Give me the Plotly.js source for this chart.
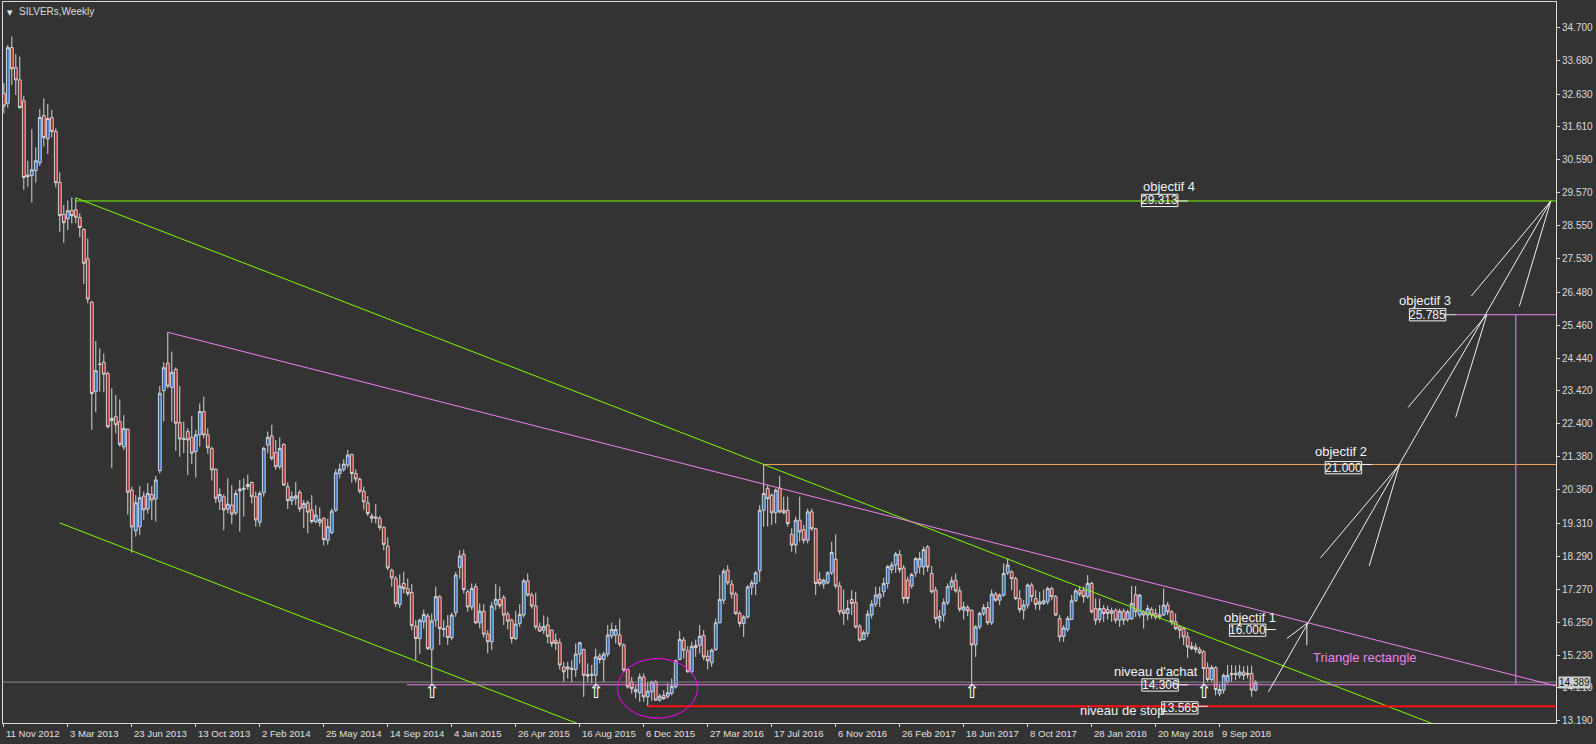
<!DOCTYPE html>
<html><head><meta charset="utf-8">
<script src="https://cdn.plot.ly/plotly-3.0.1.min.js"></script>
<style>html,body{margin:0;padding:0;background:#333333;}#chart{width:1596px;height:744px;}</style>
</head><body><div id="chart"></div>
<script>
// Weekly SILVER candles, one per week starting 11 Nov 2012
const openPrice = [32.65,32.34,34.07,33.45,33.07,32.42,30.12,30.1,30.26,30.5,31.96,31.24,31.9,31.47,29.89,28.9,28.76,29.02,29.04,28.8,
28.43,27.52,26.17,23.4,24.24,24.31,23.96,22.5,22.62,22.47,21.69,22.23,20.35,19.08,19.21,20.16,19.76,20.21,20.07,20.95,
23.43,24.28,23.53,24.09,22.44,21.95,22.16,21.98,21.54,22.06,22.78,22.06,21.64,20.99,20.0,20.14,19.76,19.88,19.64,20.32,
20.37,20.45,20.58,20.14,19.35,20.26,21.74,22.02,21.51,21.07,21.76,20.45,20.02,20.09,20.27,19.8,19.95,19.73,19.37,19.34,
19.47,18.79,19.03,19.72,20.86,20.99,21.12,21.45,20.86,20.68,20.31,19.95,19.54,19.47,19.47,19.19,18.61,17.86,17.6,16.8,
17.45,17.29,17.17,16.12,15.74,16.26,16.44,15.4,16.31,17.04,16.05,16.12,15.77,16.54,17.95,18.35,17.19,16.72,17.35,16.23,
16.59,15.88,15.64,16.8,16.95,17.01,16.5,16.31,15.74,16.21,16.47,17.53,17.09,16.75,16.1,16.0,16.16,16.0,15.69,15.61,
14.86,14.8,14.82,14.78,15.26,15.4,14.62,14.6,14.6,15.2,15.09,15.26,15.82,15.85,15.85,15.54,14.78,14.4,14.16,14.06,
14.55,13.93,14.09,14.4,13.83,13.98,13.95,14.04,14.24,15.09,15.69,15.36,14.71,15.53,15.53,15.84,15.19,14.99,15.4,16.23,
16.93,17.86,17.43,17.12,16.52,16.21,16.41,17.34,17.45,17.84,19.72,20.4,20.19,19.64,20.4,19.72,19.72,18.97,18.64,19.41,
19.12,18.79,19.67,19.15,17.57,17.43,17.47,17.78,18.2,17.37,16.62,16.52,16.95,16.86,16.12,15.71,15.9,16.47,16.81,17.0,
17.19,17.45,17.88,18.02,18.35,17.93,17.55,17.37,17.78,17.96,17.96,18.58,17.76,17.24,16.31,16.47,16.85,17.35,17.55,17.22,
16.62,16.7,16.62,15.54,16.1,16.52,16.7,16.23,17.12,16.93,17.09,17.78,17.81,17.6,16.98,16.62,16.78,17.4,16.98,16.8,
16.83,16.88,17.29,17.04,16.36,15.81,16.02,16.33,16.91,17.24,17.24,17.04,17.45,16.67,16.33,16.67,16.64,16.52,16.62,16.31,
16.59,16.33,16.36,17.1,16.47,16.57,16.47,16.64,16.52,16.47,16.47,16.78,16.57,16.26,16.1,16.05,15.79,15.5,15.48,15.4,
15.33,14.84,14.47,14.84,14.03,14.14,14.4,14.62,14.66,14.6,14.7,14.62,14.66,14.14];
const highPrice = [32.97,34.15,34.41,33.87,33.79,32.57,30.56,31.54,30.98,32.17,32.5,32.32,32.14,31.57,30.2,29.19,29.33,29.42,29.41,28.93,
28.47,28.15,26.22,24.97,24.74,24.58,24.02,23.5,23.3,23.16,22.67,22.26,20.45,20.19,20.47,20.3,20.56,20.47,20.79,23.57,
24.31,25.24,24.64,24.15,23.58,22.47,22.26,22.65,22.21,23.04,23.24,22.26,21.69,21.02,20.4,20.22,20.71,20.5,20.35,20.66,
20.71,20.83,20.61,20.3,20.32,21.69,22.16,22.37,21.9,21.98,21.8,20.58,20.3,20.6,20.35,20.04,20.02,20.19,19.88,19.81,
19.5,19.46,19.77,20.99,21.17,21.3,21.59,21.48,20.99,20.74,20.45,20.16,19.62,19.91,19.55,19.21,18.88,17.91,17.68,17.73,
17.81,17.6,17.43,16.31,16.36,16.64,16.52,16.52,17.35,17.09,16.31,16.47,16.54,17.81,18.48,18.5,17.26,17.45,17.45,16.83,
16.81,16.0,16.88,17.43,17.35,17.09,16.57,16.36,16.6,16.8,17.6,17.76,17.17,17.16,16.23,16.46,16.41,16.02,15.9,15.74,
15.02,15.02,15.07,15.59,15.64,15.43,14.97,14.92,15.43,15.28,15.33,16.16,16.23,16.16,16.36,15.59,14.81,14.55,14.29,14.66,
14.66,14.4,14.43,14.45,14.03,14.14,14.35,14.5,15.09,15.98,15.79,15.5,15.64,15.71,16.16,16.0,15.38,15.43,16.36,17.71,
17.91,18.02,17.55,17.19,16.6,16.47,17.4,17.55,17.84,19.88,21.14,20.5,20.24,20.4,20.78,20.14,20.14,19.16,19.52,20.14,
19.26,19.77,19.77,19.18,17.81,17.6,17.83,18.74,18.97,17.5,17.26,16.93,17.24,17.19,16.19,16.0,16.62,16.93,17.35,17.35,
17.63,18.02,18.12,18.43,18.48,18.02,17.66,17.78,18.27,18.43,18.6,18.64,17.99,17.35,16.62,16.98,17.45,17.66,17.76,17.35,
16.88,16.78,16.64,16.16,16.57,16.81,16.88,17.26,17.19,17.14,18.07,18.22,17.86,17.66,17.24,16.93,17.45,17.47,17.24,17.19,
17.26,17.35,17.35,17.09,16.47,16.16,16.44,17.09,17.29,17.37,17.35,17.71,17.5,16.98,16.98,16.78,16.75,16.7,16.67,16.67,
16.67,16.64,17.37,17.37,17.12,16.62,16.78,16.72,16.67,16.78,17.29,16.88,16.62,16.52,16.16,16.1,15.95,15.64,15.59,15.48,
15.38,15.0,14.92,14.88,14.3,14.66,14.92,14.92,14.9,14.92,14.88,14.9,14.9,14.45];
const lowPrice = [32.03,32.2,32.91,32.6,32.17,29.66,29.76,29.27,29.88,30.4,31.0,30.77,31.29,29.74,28.36,28.02,28.41,28.62,28.62,28.19,
26.74,26.14,22.21,22.76,23.4,23.38,22.26,21.02,22.1,21.69,21.59,19.59,18.41,18.9,18.95,19.42,19.62,19.42,19.37,20.86,
22.47,23.5,22.47,21.57,21.38,21.49,20.81,21.15,20.73,21.69,21.95,21.47,20.64,19.95,19.73,19.1,19.62,19.29,19.57,19.06,
19.52,20.35,19.93,19.21,19.21,20.14,21.49,21.26,20.97,20.99,20.47,19.76,19.88,19.88,19.67,19.16,19.0,19.31,19.31,19.21,
18.63,18.65,18.97,19.67,20.71,20.91,21.04,20.58,20.58,20.24,19.74,19.54,19.33,19.31,19.1,18.48,17.86,17.35,16.72,16.69,
17.14,17.06,16.0,15.07,15.26,16.05,15.38,14.29,16.1,15.54,15.79,15.54,15.69,16.41,17.6,17.14,16.57,16.62,16.19,16.05,
15.77,15.28,15.38,16.62,16.67,16.16,16.02,15.59,15.69,16.1,16.39,17.04,16.67,16.02,15.95,15.88,15.59,15.48,15.38,14.78,
14.4,14.5,14.38,14.55,14.97,13.93,14.38,14.35,14.19,14.97,14.4,15.17,15.74,15.59,15.48,14.71,14.19,14.03,13.88,13.78,
13.78,13.64,13.81,13.81,13.78,13.83,13.88,13.98,14.19,15.07,15.12,14.68,14.66,15.17,15.28,15.07,14.78,14.86,15.36,16.21,
16.81,17.4,16.98,16.47,16.1,15.79,16.36,17.09,17.09,17.5,19.21,19.21,19.26,19.31,19.62,19.6,19.21,18.43,18.38,18.74,
18.69,18.69,19.08,17.09,17.37,17.29,17.43,17.71,17.29,16.47,16.16,16.31,16.47,16.05,15.64,15.69,15.79,16.36,16.72,16.72,
17.03,17.29,17.76,17.78,17.78,16.83,16.83,17.29,17.65,17.76,17.71,17.81,17.14,16.21,16.05,16.26,16.78,17.24,17.16,16.57,
16.33,16.44,14.24,15.17,16.02,16.44,16.16,16.16,16.88,16.78,17.04,17.71,17.24,16.93,16.54,16.33,16.67,16.88,16.64,16.62,
16.78,16.8,16.93,16.44,15.64,15.64,15.95,16.31,16.88,17.04,16.85,16.98,16.52,16.16,16.23,16.26,16.33,16.26,16.21,16.1,
16.16,16.26,16.31,16.41,16.39,16.05,16.31,16.36,16.33,16.33,16.44,16.47,16.16,16.0,15.74,15.54,15.14,15.38,15.3,15.25,
14.24,14.4,14.4,13.98,13.95,14.03,14.34,14.4,14.45,14.5,14.45,14.5,13.93,14.1];
const closePrice = [32.26,34.07,33.41,33.07,32.21,30.04,30.07,30.28,30.56,31.9,31.28,31.87,31.47,29.88,28.86,28.64,29.01,28.86,28.81,28.49,
27.38,26.27,23.34,24.05,24.25,23.94,22.31,22.57,22.37,21.76,22.26,20.28,19.2,19.95,20.11,19.73,20.24,20.04,20.66,23.35,
24.14,23.57,24.0,22.42,21.93,21.92,21.9,21.49,22.06,22.78,22.06,21.66,20.97,20.09,20.21,19.73,19.91,19.6,20.24,20.38,
20.4,20.52,20.14,19.42,20.24,21.64,21.98,21.33,21.07,21.64,20.5,20.02,20.14,20.17,19.76,19.93,19.66,19.37,19.57,19.43,
18.81,19.21,19.69,20.88,20.99,21.15,21.43,20.86,20.69,20.31,19.98,19.62,19.47,19.5,19.19,18.66,17.93,17.62,16.83,17.37,
17.29,17.14,16.14,15.74,16.31,16.49,15.43,16.29,17.04,16.05,16.02,15.77,16.47,17.71,18.3,17.26,16.72,17.29,16.23,16.59,
15.88,15.64,16.75,16.96,16.76,16.47,16.28,15.74,16.19,16.49,17.53,17.09,16.75,16.1,15.97,16.12,15.81,15.59,15.59,14.92,
14.71,14.86,14.78,15.26,15.61,14.6,14.58,14.63,15.17,15.09,15.26,15.85,16.02,16.02,15.56,14.76,14.24,14.19,14.09,14.55,
13.93,14.11,14.4,13.83,13.95,13.88,14.06,14.26,15.05,15.71,15.38,14.71,15.5,15.46,15.81,15.17,15.05,15.38,16.23,16.95,
17.83,17.47,17.12,16.52,16.21,16.41,17.34,17.47,17.78,19.72,20.24,20.08,19.64,20.34,19.67,19.64,19.31,18.64,19.41,19.05,
18.79,19.67,19.15,17.45,17.45,17.55,17.78,18.41,17.37,16.57,16.52,16.67,16.83,16.1,15.69,15.92,16.5,16.81,17.09,17.12,
17.45,17.97,18.02,18.36,17.88,16.98,16.98,17.73,18.22,18.22,18.5,17.96,17.19,16.36,16.43,16.85,17.35,17.53,17.22,16.65,
16.72,16.6,15.54,16.1,16.52,16.7,16.23,17.12,16.93,17.09,17.76,18.02,17.6,16.98,16.64,16.78,17.4,17.04,16.8,16.88,
16.91,17.29,17.04,16.47,15.79,16.07,16.36,16.91,17.22,17.12,17.04,17.45,16.57,16.31,16.67,16.52,16.52,16.6,16.31,16.59,
16.31,16.57,16.83,16.57,17.09,16.47,16.67,16.47,16.41,16.41,16.78,16.57,16.26,16.05,16.0,15.79,15.48,15.43,15.4,15.3,
14.81,14.47,14.84,14.16,14.16,14.6,14.6,14.66,14.62,14.7,14.6,14.66,14.14,14.389];

const xTickWeeks = [0,16,32,48,64,80,96,112,128,144,160,176,192,208,224,240,256,272,288,304];
const xTickLabels = ["11 Nov 2012","3 Mar 2013","23 Jun 2013","13 Oct 2013","2 Feb 2014","25 May 2014","14 Sep 2014","4 Jan 2015","26 Apr 2015","16 Aug 2015","6 Dec 2015","27 Mar 2016","17 Jul 2016","6 Nov 2016","26 Feb 2017","18 Jun 2017","8 Oct 2017","28 Jan 2018","20 May 2018","9 Sep 2018"];
const yTickVals = [34.7,33.68,32.63,31.61,30.59,29.57,28.55,27.53,26.48,25.46,24.44,23.42,22.4,21.38,20.36,19.31,18.29,17.27,16.25,15.23,14.21,13.19];
const yTickText = yTickVals.map(v => v.toFixed(3));

// Annotated levels: label, value text, price level
const levelLabels = ["objectif 1","objectif 2","objectif 3","objectif 4","niveau d'achat","niveau de stop"];
const levelValues = ["16.000","21.000","25.785","29.313","14.306","13.565"];
const levelPrices = [16.02,21.14,25.785,29.313,14.306,13.64];
const currentPrice = 14.389;
const signalWeeks = [107,148,242,300];

const weeks = openPrice.map((_, i) => i);

// ---------- drawing geometry (positions) ----------
const X_MAX = 388.1, X_MIN = -0.2, Y_MIN = 13.121, Y_MAX = 35.485;
// label placement: [textLeftWeek, textPrice, boxLeftWeek, boxPrice]
const labelPos = [
  [304.55,16.40,306.45,16.0],
  [327.4,21.53,330.4,21.04],
  [348.45,26.23,351.45,25.785],
  [284.45,29.77,284.45,29.33],
  [277.05,14.71,284.55,14.30],
  [268.65,13.50,289.5,13.59]
];
const BOX_W = 9.1, BOX_H = 0.19;

const shapes = [];
function seg(x0,y0,x1,y1,color,width,dash){
  shapes.push({type:'line',xref:'x',yref:'y',x0:x0,y0:y0,x1:x1,y1:y1,layer:'above',
    line:{color:color,width:width||1,dash:dash||'solid'}});
}
function ray(xa,ya,xb,yb,color){
  const s=(yb-ya)/(xb-xa); const xe=X_MAX+5;
  seg(xa,ya,xe,ya+s*(xe-xa),color,1);
}
const GREEN='#7CFC00', VIOLET='#EE82EE', WHITE='#F0F0F0';
// current price line
seg(X_MIN-1,currentPrice,X_MAX+5,currentPrice,'#8a8a8a',1);
// objectif 4 horizontal
seg(18,levelPrices[3],X_MAX+5,levelPrices[3],GREEN,1);
// green channel
ray(18,29.41,190,21.14,GREEN);
const gs=(21.14-29.41)/(190-18);
seg(13.95,19.33,X_MAX+5,19.33+gs*(X_MAX+5-13.95),GREEN,1);
// violet descending resistance
ray(41,25.24,388.1,14.27,VIOLET);
// violet support at niveau d'achat
seg(100.8,levelPrices[4],X_MAX+5,levelPrices[4],VIOLET,1);
// stop level
seg(161,levelPrices[5],X_MAX+5,levelPrices[5],'#FF1010',2);
// objectif 2 level
seg(190,levelPrices[1],X_MAX+5,levelPrices[1],'#F5A35A',1);
// objectif 3 level + height
seg(363.1,levelPrices[2],X_MAX+5,levelPrices[2],VIOLET,1);
seg(378.05,levelPrices[4],378.05,levelPrices[2],VIOLET,1);
// projection path and arrowheads
seg(316.2,14.09,386.8,29.313,WHITE,1);
const tips = [[325.8,16.21],[349.0,21.14],[370.8,25.785],[386.8,29.313]];
const barbs = [[[320.8,15.74],[325.8,15.53]],[[329.2,18.24],[341.4,17.99]],[[351.1,22.91],[363.0,22.6]],[[366.9,26.36],[378.95,26.05]]];
tips.forEach((t,k)=>{ barbs[k].forEach(b=>seg(t[0],t[1],b[0],b[1],WHITE,1)); });
// ellipse
shapes.push({type:'circle',xref:'x',yref:'y',x0:153.45,x1:173.45,y0:13.27,y1:15.12,layer:'above',line:{color:'#FF00FF',width:1}});

const annotations = [];
const FONT = '"Liberation Sans", Arial, sans-serif';
levelLabels.forEach((lab,k)=>{
  const p = labelPos[k];
  annotations.push({xref:'x',yref:'y',x:p[0],y:p[1],xanchor:'left',yanchor:'middle',text:lab,showarrow:false,
    font:{family:FONT,size:13,color:'#F2F2F2'}});
  shapes.push({type:'rect',xref:'x',yref:'y',x0:p[2],x1:p[2]+BOX_W,y0:p[3]-BOX_H,y1:p[3]+BOX_H,layer:'above',
    line:{color:'#F2F2F2',width:1},fillcolor:'rgba(0,0,0,0)'});
  annotations.push({xref:'x',yref:'y',x:p[2]+BOX_W/2,y:p[3],xanchor:'center',yanchor:'middle',text:levelValues[k],showarrow:false,
    font:{family:FONT,size:12,color:'#F2F2F2'}});
  seg(p[2]+BOX_W,levelPrices[k],p[2]+BOX_W+2.5,levelPrices[k],'#F2F2F2',1);
});
annotations.push({xref:'x',yref:'y',x:326.9,y:15.14,xanchor:'left',yanchor:'middle',text:'Triangle rectangle',showarrow:false,
  font:{family:FONT,size:13,color:VIOLET}});
signalWeeks.forEach(w=>{
  annotations.push({xref:'x',yref:'y',x:w,y:14.1,xanchor:'center',yanchor:'middle',text:'\u21E7',showarrow:false,
    font:{family:'"DejaVu Sans", sans-serif',size:19,color:'#FFFFFF'}});
});
// x-axis date labels, written to the right of each tick like the terminal does
xTickWeeks.forEach((w,k)=>{
  annotations.push({xref:'x',yref:'paper',x:w,y:0,xanchor:'left',yanchor:'top',yshift:-3,xshift:0,text:xTickLabels[k],showarrow:false,
    font:{family:FONT,size:9.6,color:'#E0E0E0'}});
});
// title
annotations.push({xref:'paper',yref:'paper',x:0,y:1,xanchor:'left',yanchor:'top',xshift:2,yshift:-5,text:'\u25BC',showarrow:false,
  font:{family:'"DejaVu Sans", sans-serif',size:7,color:'#E6E6E6'}});
annotations.push({xref:'paper',yref:'paper',x:0,y:1,xanchor:'left',yanchor:'top',xshift:14,yshift:-2,text:'SILVERs,Weekly',showarrow:false,
  font:{family:FONT,size:10,color:'#DCDCDC'}});
// current price tag on axis
annotations.push({xref:'paper',yref:'y',x:1.0013,y:currentPrice,xanchor:'left',yanchor:'middle',text:currentPrice.toFixed(3),showarrow:false,
  bgcolor:'#cfcfcf',borderpad:0,font:{family:FONT,size:10,color:'#111111'}});

const trace = {
  type:'candlestick', x:weeks, open:openPrice, high:highPrice, low:lowPrice, close:closePrice,
  increasing:{line:{color:'#D4D4D4',width:1},fillcolor:'#1C6FD8'},
  decreasing:{line:{color:'#D4D4D4',width:1},fillcolor:'#C01E1E'},
  whiskerwidth:0, hoverinfo:'skip', showlegend:false
};

const AX = '#D8D8D8';
const layout = {
  width:1596, height:744,
  margin:{l:3,r:40,t:2,b:21,pad:0},
  paper_bgcolor:'#333333', plot_bgcolor:'#333333',
  showlegend:false, hovermode:false,
  boxgap:0.3, boxgroupgap:0,
  xaxis:{range:[X_MIN,X_MAX], tickmode:'array', tickvals:xTickWeeks, showticklabels:false,
    ticks:'outside', ticklen:3, tickcolor:AX, tickwidth:1, showline:true, linecolor:AX, linewidth:1, mirror:true,
    showgrid:false, zeroline:false, rangeslider:{visible:false}, fixedrange:true},
  yaxis:{range:[Y_MIN,Y_MAX], side:'right', tickmode:'array', tickvals:yTickVals, ticktext:yTickText,
    ticks:'outside', ticklen:3, tickcolor:AX, showline:true, linecolor:AX, linewidth:1, mirror:true,
    showgrid:false, zeroline:false, tickfont:{family:FONT,size:10,color:'#DCDCDC'}, fixedrange:true},
  shapes:shapes, annotations:annotations
};
Plotly.newPlot('chart',[trace],layout,{displayModeBar:false,staticPlot:true});
</script></body></html>
